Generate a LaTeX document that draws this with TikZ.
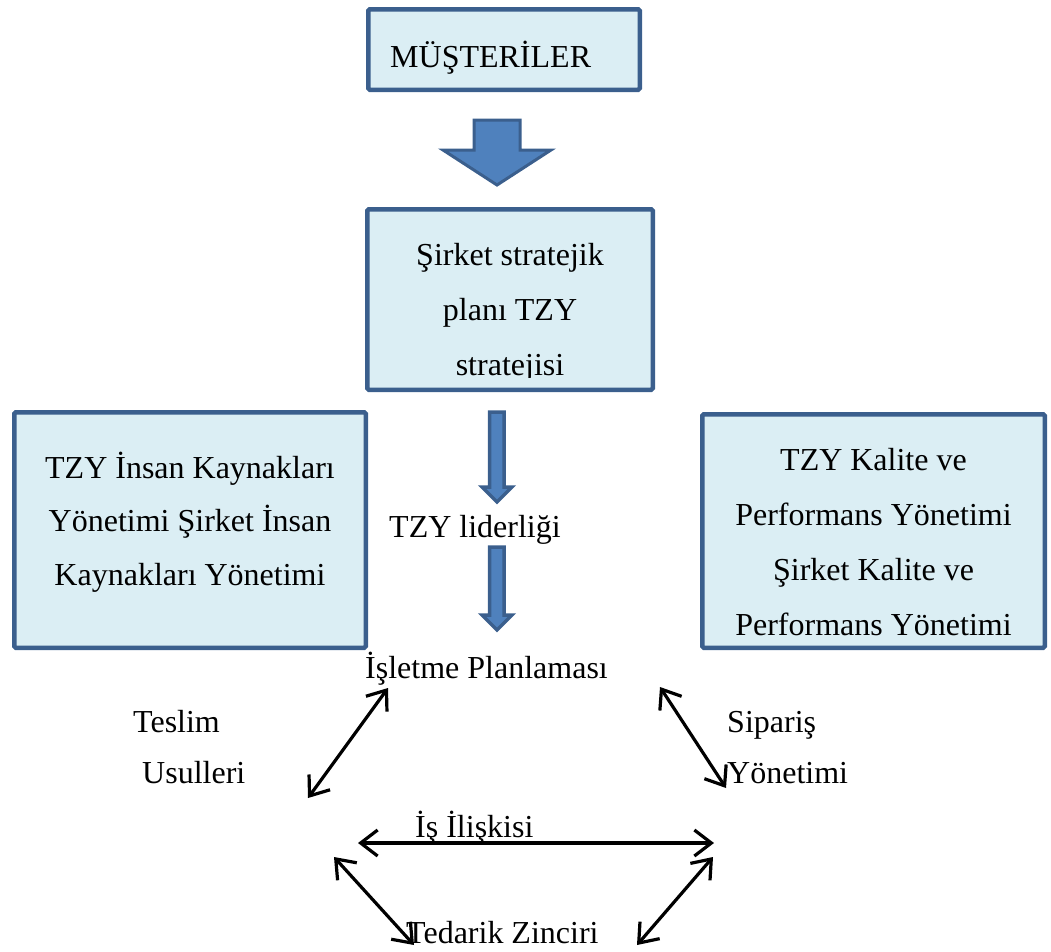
\documentclass[tikz,border=0pt]{standalone}
\usepackage{fontspec}
\setmainfont{Liberation Serif}
\usetikzlibrary{arrows.meta}
\definecolor{boxfill}{HTML}{DBEEF4}
\definecolor{boxline}{HTML}{3B5F8D}
\definecolor{arrowfill}{HTML}{4F81BD}
\tikzset{
  panel/.style={draw=boxline, fill=boxfill, line width=4.5pt, rounded corners=1.5pt, inner sep=0pt},
  blockarrow/.style={draw=boxline, fill=arrowfill, line width=3pt, line join=miter},
  slimarrow/.style={draw=boxline, fill=arrowfill, line width=3.5pt, line join=miter},
  txt/.style={font=\fontsize{32}{55}\selectfont, inner sep=0pt, anchor=base west},
  ctxt/.style={font=\fontsize{32}{55}\selectfont, inner sep=0pt, anchor=base},
  barb/.tip={Straight Barb[length=17pt,width=26pt]},
  link/.style={line width=3.2pt, barb-barb},
}
\newcommand{\lines}[1]{\setlength{\tabcolsep}{0pt}\begin{tabular}[t]{c}#1\end{tabular}}
\begin{document}
\begin{tikzpicture}[x=1pt,y=-1pt]
\useasboundingbox (0,0) rectangle (1051,951);

% panels
\node[panel, minimum width=271.5pt, minimum height=80.5pt] (cust) at (504,49.5) {};
\node[panel, minimum width=285.5pt, minimum height=180.5pt] (plan) at (510,299.5) {};
\node[panel, minimum width=351.5pt, minimum height=235.5pt] (hr) at (190,530) {};
\node[panel, minimum width=342.5pt, minimum height=233.5pt] (qual) at (873.5,531) {};

% panel texts
\node[txt] (custtxt) at (390,67) {MÜŞTERİLER};
\begin{scope}
  \clip (368,210) rectangle (652,377.5);
  \node[ctxt] (plantxt) at (510,265.5) {\lines{Şirket stratejik\\ planı TZY\\ stratejisi}};
\end{scope}
\node[ctxt, font=\fontsize{32}{53.5}\selectfont] (hrtxt) at (190,478) {\lines{TZY İnsan Kaynakları\\ Yönetimi Şirket İnsan\\ Kaynakları Yönetimi}};
\node[ctxt] (qualtxt) at (873.5,470) {\lines{TZY Kalite ve\\ Performans Yönetimi\\ Şirket Kalite ve\\ Performans Yönetimi}};

% block arrows
\draw[blockarrow] (474,120) -- (520,120) -- (520,150) -- (551,150) -- (497,185)
  -- (443,150) -- (474,150) -- cycle;
\draw[slimarrow] (489.5,412) -- (504,412) -- (504,487) -- (512,487) -- (497,502)
  -- (482,487) -- (489.5,487) -- cycle;
\draw[slimarrow] (489.5,547) -- (504,547) -- (504,615) -- (512,615) -- (497,630)
  -- (482,615) -- (489.5,615) -- cycle;

% free labels
\node[txt] (lead) at (389,537) {TZY liderliği};
\node[txt] (ops) at (365,678) {İşletme Planlaması};
\node[txt] (deliv1) at (133,732) {Teslim};
\node[txt] (deliv2) at (142,783) {Usulleri};
\node[txt] (order1) at (727,732) {Sipariş};
\node[txt] (order2) at (727,783) {Yönetimi};
\node[txt] (biz) at (415,837) {İş İlişkisi};
\node[txt] (supply) at (406,943) {Tedarik Zinciri};

% connector ends
\coordinate (a1) at (308,798);
\coordinate (a2) at (388,688);
\coordinate (b1) at (660,687);
\coordinate (b2) at (726,788);
\coordinate (c1) at (358,843);
\coordinate (c2) at (714,843);
\coordinate (d1) at (334,857);
\coordinate (d2) at (414,945);
\coordinate (e1) at (713,857);
\coordinate (e2) at (637,945);

% double-headed links
\draw[link] (a1) -- (a2);
\draw[link] (b1) -- (b2);
\draw[link] (c1) -- (c2);
\draw[link] (d1) -- (d2);
\draw[link] (e1) -- (e2);
\end{tikzpicture}
\end{document}
